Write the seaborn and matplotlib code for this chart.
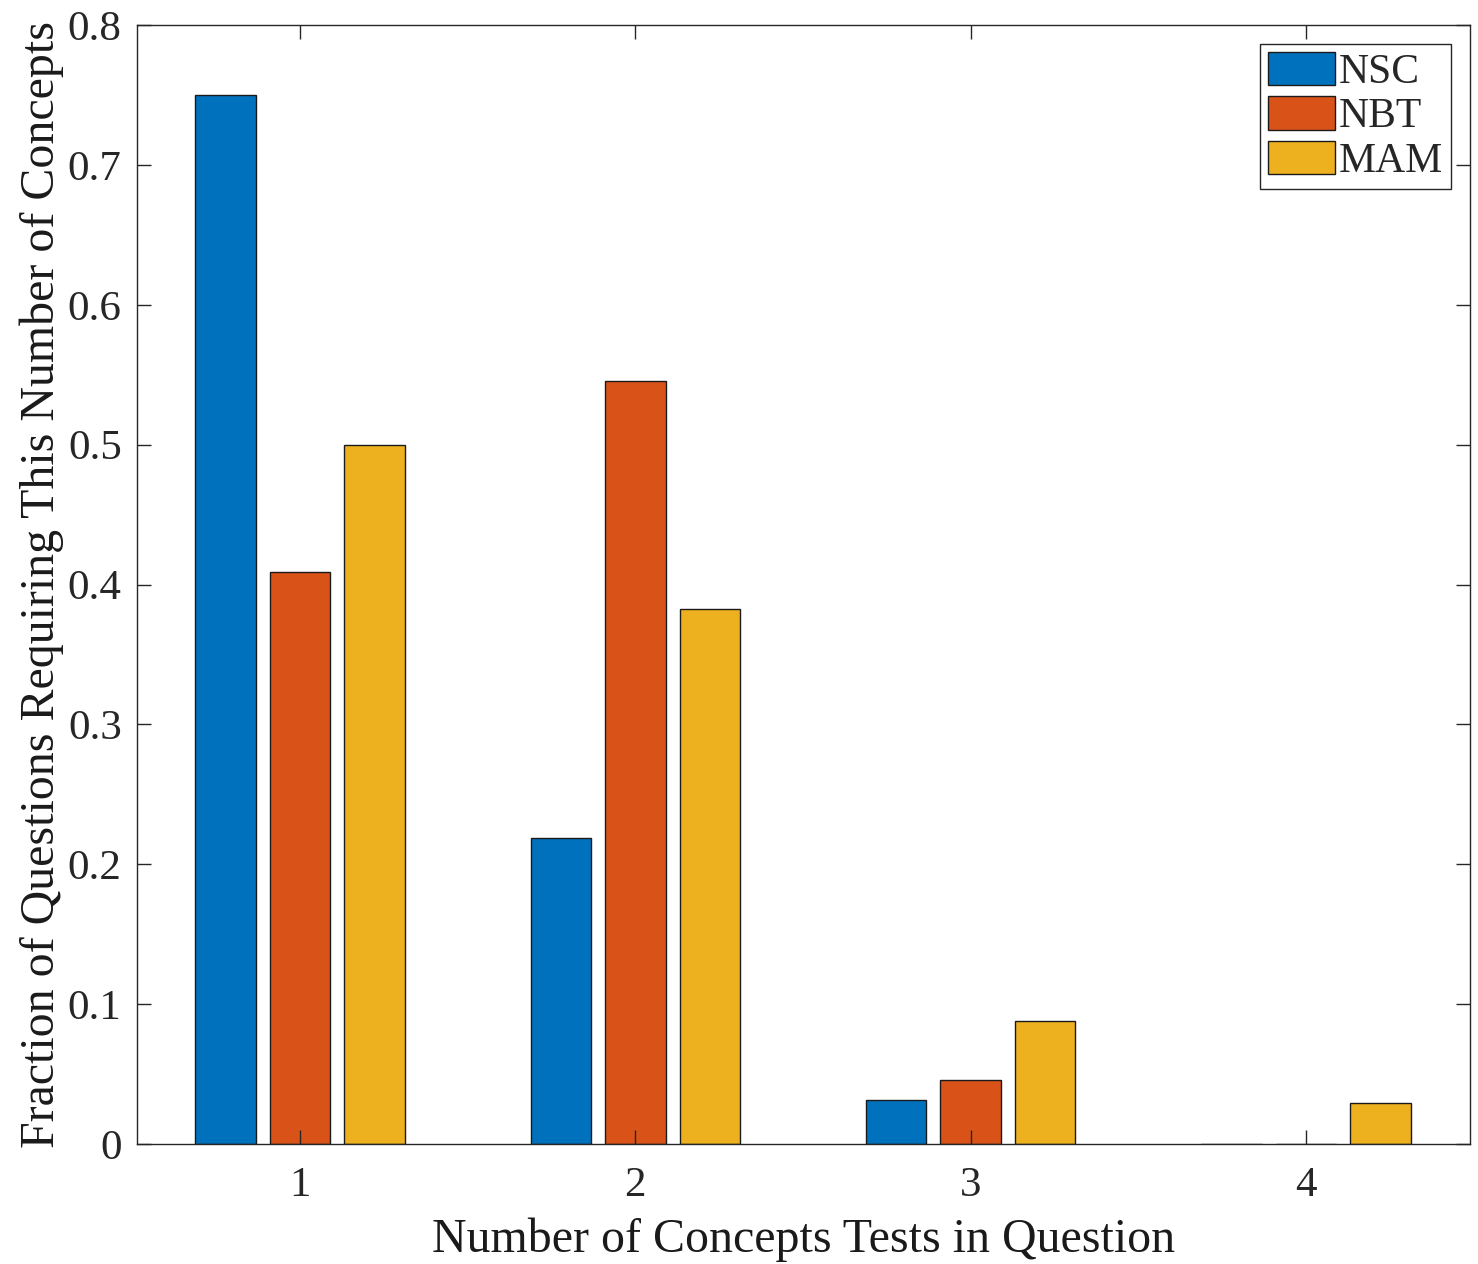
import numpy as np
import pandas as pd
import matplotlib
matplotlib.use("Agg")
import matplotlib.pyplot as plt
import seaborn as sns

# Data (fractions of questions per concept count)
concept_counts = ["1", "2", "3", "4"]
nsc_values = [0.75, 0.21875, 0.03125, 0.0]
nbt_values = [0.4091, 0.5455, 0.04545, 0.0]
mam_values = [0.5, 0.3824, 0.0882, 0.0294]
series_names = ["NSC", "NBT", "MAM"]
series_colors = ["#0072BD", "#D95319", "#EDB120"]

df = pd.DataFrame({
    "count": concept_counts * 3,
    "value": nsc_values + nbt_values + mam_values,
    "series": np.repeat(series_names, len(concept_counts)),
})

sns.set_style("ticks")
plt.rcParams["font.family"] = ["Liberation Serif", "DejaVu Serif"]
plt.rcParams["axes.edgecolor"] = "#262626"
plt.rcParams["xtick.color"] = "#262626"
plt.rcParams["ytick.color"] = "#262626"

fig = plt.figure(figsize=(14.78, 12.64), dpi=100)
ax = fig.add_axes([0.0927, 0.0949, 0.9019, 0.8853])

sns.barplot(data=df, x="count", y="value", hue="series", hue_order=series_names,
            palette=series_colors, width=0.667, gap=0.19, edgecolor="#1a1a1a",
            linewidth=1.0, saturation=1.0, ax=ax, zorder=1)

ax.set_xlim(-0.486, 3.489)
ax.set_ylim(0, 0.8)
ax.set_yticks(np.arange(0, 0.81, 0.1))
ax.set_yticklabels(["0"] + [f"{v:.1f}" for v in np.arange(0.1, 0.81, 0.1)])

for side in ["top", "right", "left", "bottom"]:
    ax.spines[side].set_visible(True)
    ax.spines[side].set_linewidth(1.0)
    ax.spines[side].set_color("#262626")
    ax.spines[side].set_zorder(3)

ax.tick_params(axis="both", direction="in", length=10, width=1.0,
               top=True, right=True, labelsize=31, pad=11)
ax.tick_params(axis="x", pad=16)
ax.set_axisbelow(False)

ax.set_xlabel("Number of Concepts Tests in Question", fontsize=34.5, labelpad=9,
              color="#1a1a1a")
ax.set_ylabel("Fraction of Questions Requiring This Number of Concepts", fontsize=34.5,
              labelpad=3, color="#1a1a1a")

leg = ax.legend(loc="upper right", fontsize=30, frameon=True, fancybox=False,
                edgecolor="#262626", framealpha=1.0, handlelength=1.6,
                handleheight=0.85, handletextpad=0.1, labelspacing=0.1,
                borderpad=0.2, borderaxespad=0.45)
leg.get_frame().set_linewidth(1.0)

fig.savefig("out.png", dpi=100)
plt.close(fig)
